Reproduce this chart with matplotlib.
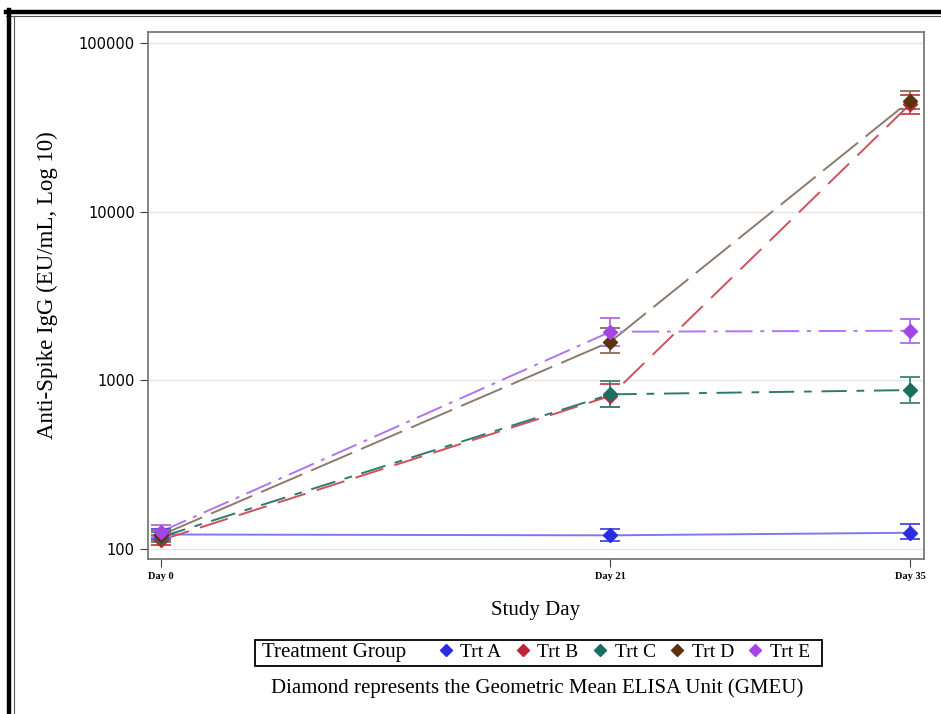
import numpy as np
import matplotlib.pyplot as plt
from matplotlib.lines import Line2D
from matplotlib.patches import Rectangle

days = [0, 21, 35]
day_labels = ['Day 0', 'Day 21', 'Day 35']
groups = ['Trt A', 'Trt B', 'Trt C', 'Trt D', 'Trt E']

gmeu = {
    'Trt A': [122, 120.6, 124.9],
    'Trt B': [113, 810, 43500],
    'Trt C': [118, 827, 877],
    'Trt D': [121, 1698, 45600],
    'Trt E': [127, 1945, 1972],
}
lower = {
    'Trt A': [114, 111, 114.6],
    'Trt B': [106, 692, 37800],
    'Trt C': [110, 692, 731],
    'Trt D': [113, 1455, 40500],
    'Trt E': [118, 1607, 1675],
}
upper = {
    'Trt A': [131, 131.4, 140],
    'Trt B': [121, 950, 49000],
    'Trt C': [127, 992, 1052],
    'Trt D': [130, 2047, 52000],
    'Trt E': [138, 2356, 2302],
}

marker_colors = {'Trt A': '#2b2be0', 'Trt B': '#c0223a', 'Trt C': '#1c6e60',
                 'Trt D': '#5a3210', 'Trt E': '#a445e6'}
line_colors = {'Trt A': '#7a7aee', 'Trt B': '#d0505c', 'Trt C': '#2f7a6e',
               'Trt D': '#8c7a6a', 'Trt E': '#b274ee'}
err_colors = {'Trt A': '#4646e6', 'Trt B': '#c8404c', 'Trt C': '#3a8478',
              'Trt D': '#8a6e58', 'Trt E': '#b06ae8'}
dashes = {'Trt A': None, 'Trt B': (15, 6), 'Trt C': (13, 5, 4, 5),
          'Trt D': (23, 5), 'Trt E': (14, 4, 2, 4)}

serif = 'Liberation Serif'

fig = plt.figure(figsize=(9.41, 7.14), dpi=100)
ax = fig.add_axes([0.1573, 0.2171, 0.8246, 0.7377])

for g in groups:
    y = np.array(gmeu[g])
    if dashes[g] is None:
        ax.plot(days, y, color=line_colors[g], lw=1.4, zorder=2)
    else:
        ax.plot(days, y, color=line_colors[g], lw=1.4, dashes=dashes[g], zorder=2)
for g in groups:
    y = np.array(gmeu[g])
    yerr = [y - np.array(lower[g]), np.array(upper[g]) - y]
    ax.errorbar(days, y, yerr=yerr, fmt='none', ecolor=err_colors[g],
                elinewidth=1.3, capsize=7, capthick=1.3, zorder=3)
    ax.plot(days, y, 'D', color=marker_colors[g], ms=7.5, zorder=4, ls='none')

ax.set_yscale('log')
ax.set_ylim(87.3, 116200)
ax.set_xlim(-0.61, 35.65)
ax.set_yticks([100, 1000, 10000, 100000])
ax.set_yticklabels(['100', '1000', '10000', '100000'])
ax.yaxis.set_minor_locator(plt.NullLocator())
ax.set_xticks(days)
ax.set_xticklabels(day_labels, family=serif, fontsize=7.5, fontweight='bold')
ax.tick_params(axis='y', labelsize=10.5, length=6, color='#404040')
ax.tick_params(axis='x', length=6, color='#404040')
ax.grid(axis='y', color='#e6e6e6', lw=1)
ax.set_axisbelow(True)
for s in ax.spines.values():
    s.set_color('#707070')
    s.set_linewidth(1.2)

ax.set_xlabel('Study Day', family=serif, fontsize=15, labelpad=14)
ax.set_ylabel('Anti-Spike IgG (EU/mL, Log 10)', family=serif, fontsize=16.5)
ax.yaxis.set_label_coords(-0.116, 0.52)

# legend row with the title on the left
handles = [Line2D([], [], marker='D', ls='none', color=marker_colors[g], ms=6) for g in groups]
fig.legend(handles, groups, loc='center left', bbox_to_anchor=(438 / 941, 1 - 652 / 714),
           ncol=5, frameon=False, prop={'family': serif, 'size': 14},
           handlelength=0.8, handletextpad=0.35, columnspacing=0.7,
           borderpad=0, borderaxespad=0)
fig.text(262 / 941, 1 - 653 / 714, 'Treatment Group', family=serif, fontsize=15,
         va='center', ha='left')
fig.patches.append(Rectangle((255 / 941, 1 - 666 / 714), 567 / 941, 26 / 714,
                             transform=fig.transFigure, fill=False, ec='black', lw=1.3))
fig.text(537 / 941, 1 - 688 / 714, 'Diamond represents the Geometric Mean ELISA Unit (GMEU)',
         family=serif, fontsize=15, ha='center', va='center')

# outer frame of the screenshot
fig.add_artist(Line2D([6 / 941, 1], [1 - 11.5 / 714] * 2, transform=fig.transFigure,
                      color='black', lw=3.2))
fig.add_artist(Line2D([6 / 941, 1], [1 - 16 / 714] * 2, transform=fig.transFigure,
                      color='#555555', lw=0.8))
fig.add_artist(Line2D([8.5 / 941] * 2, [0, 1 - 10 / 714], transform=fig.transFigure,
                      color='black', lw=3.2))
fig.add_artist(Line2D([14 / 941] * 2, [0, 1 - 16 / 714], transform=fig.transFigure,
                      color='#555555', lw=0.8))

fig.savefig('out.png', dpi=100)
